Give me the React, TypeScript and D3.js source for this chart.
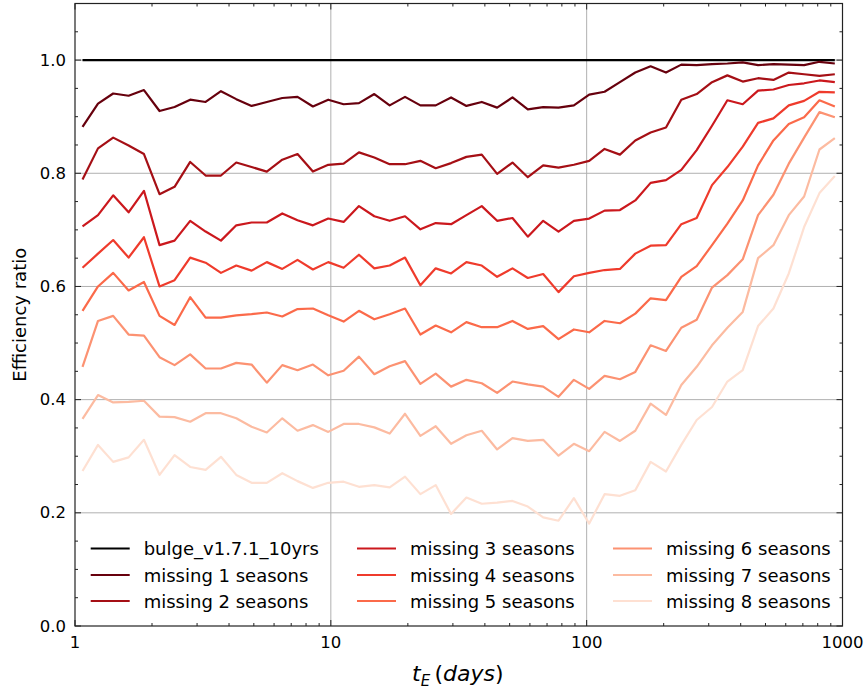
import React from 'react';
import { scaleLog, scaleLinear, line } from 'd3';

const width = 866;
const height = 689;
const margin = { top: 3.5, bottom: 63, left: 75, right: 23.5 };

// bin centres of t_E (days), log spaced
const tE = [1.07, 1.23, 1.41, 1.62, 1.86, 2.14, 2.45, 2.82, 3.24, 3.72,
  4.27, 4.9, 5.62, 6.46, 7.41, 8.51, 9.77, 11.22, 12.88, 14.79,
  16.98, 19.5, 22.39, 25.7, 29.51, 33.88, 38.9, 44.67, 51.29, 58.88,
  67.61, 77.62, 89.13, 102.3, 117.5, 134.9, 154.9, 177.8, 204.2, 234.4,
  269.2, 309, 354.8, 407.4, 467.7, 537, 616.6, 707.9, 812.8, 933.3];

const bulge = [1, 1, 1, 1, 1, 1, 1, 1, 1, 1, 1, 1, 1, 1, 1, 1, 1, 1, 1, 1, 1, 1, 1, 1, 1,
  1, 1, 1, 1, 1, 1, 1, 1, 1, 1, 1, 1, 1, 1, 1, 1, 1, 1, 1, 1, 1, 1, 1, 1, 1];

const miss1 = [0.882, 0.923, 0.941, 0.937, 0.947, 0.910, 0.917, 0.930, 0.926, 0.945,
  0.931, 0.919, 0.926, 0.933, 0.935, 0.918, 0.930, 0.922, 0.924, 0.940,
  0.920, 0.935, 0.920, 0.920, 0.934, 0.919, 0.926, 0.916, 0.934, 0.913,
  0.917, 0.916, 0.920, 0.939, 0.944, 0.961, 0.978, 0.989, 0.978, 0.992,
  0.991, 0.993, 0.994, 0.996, 0.991, 0.993, 0.992, 0.991, 0.997, 0.994];
const miss2 = [0.789, 0.844, 0.863, 0.849, 0.834, 0.763, 0.776, 0.820, 0.796, 0.796,
  0.819, 0.811, 0.803, 0.824, 0.834, 0.803, 0.815, 0.817, 0.837, 0.828,
  0.816, 0.816, 0.822, 0.809, 0.818, 0.829, 0.833, 0.799, 0.819, 0.793,
  0.814, 0.810, 0.815, 0.822, 0.843, 0.833, 0.858, 0.872, 0.881, 0.930,
  0.940, 0.961, 0.973, 0.962, 0.968, 0.965, 0.978, 0.975, 0.972, 0.975];
const miss3 = [0.706, 0.726, 0.761, 0.731, 0.769, 0.673, 0.681, 0.716, 0.697, 0.681,
  0.708, 0.713, 0.713, 0.729, 0.717, 0.708, 0.720, 0.714, 0.742, 0.724,
  0.716, 0.724, 0.701, 0.712, 0.710, 0.726, 0.742, 0.716, 0.721, 0.688,
  0.716, 0.697, 0.716, 0.720, 0.734, 0.735, 0.752, 0.783, 0.788, 0.806,
  0.841, 0.884, 0.929, 0.922, 0.946, 0.948, 0.956, 0.959, 0.964, 0.961];
const miss4 = [0.633, 0.658, 0.682, 0.651, 0.687, 0.600, 0.611, 0.651, 0.642, 0.624,
  0.637, 0.628, 0.643, 0.631, 0.647, 0.630, 0.643, 0.633, 0.656, 0.632,
  0.637, 0.651, 0.602, 0.632, 0.623, 0.643, 0.637, 0.617, 0.632, 0.615,
  0.622, 0.590, 0.618, 0.624, 0.629, 0.631, 0.658, 0.672, 0.673, 0.710,
  0.721, 0.779, 0.811, 0.847, 0.889, 0.897, 0.920, 0.928, 0.944, 0.943];
const miss5 = [0.557, 0.600, 0.624, 0.593, 0.608, 0.548, 0.532, 0.581, 0.545, 0.545,
  0.549, 0.551, 0.554, 0.547, 0.560, 0.561, 0.549, 0.538, 0.557, 0.542,
  0.551, 0.561, 0.515, 0.531, 0.519, 0.537, 0.528, 0.528, 0.539, 0.525,
  0.530, 0.507, 0.524, 0.519, 0.539, 0.535, 0.552, 0.579, 0.576, 0.617,
  0.636, 0.673, 0.711, 0.752, 0.814, 0.858, 0.887, 0.899, 0.929, 0.918];
const miss6 = [0.458, 0.539, 0.548, 0.515, 0.513, 0.475, 0.461, 0.480, 0.455, 0.455,
  0.465, 0.462, 0.430, 0.461, 0.452, 0.462, 0.443, 0.451, 0.476, 0.445,
  0.459, 0.468, 0.428, 0.446, 0.423, 0.435, 0.429, 0.412, 0.432, 0.427,
  0.423, 0.405, 0.435, 0.419, 0.442, 0.436, 0.449, 0.496, 0.486, 0.527,
  0.541, 0.598, 0.620, 0.648, 0.726, 0.762, 0.817, 0.863, 0.908, 0.899];
const miss7 = [0.366, 0.408, 0.395, 0.396, 0.398, 0.370, 0.369, 0.361, 0.376, 0.376,
  0.367, 0.352, 0.342, 0.367, 0.345, 0.355, 0.343, 0.357, 0.357, 0.351,
  0.340, 0.375, 0.336, 0.353, 0.322, 0.337, 0.345, 0.312, 0.332, 0.327,
  0.329, 0.301, 0.322, 0.309, 0.343, 0.327, 0.345, 0.393, 0.373, 0.426,
  0.458, 0.496, 0.527, 0.555, 0.650, 0.673, 0.726, 0.759, 0.842, 0.862];
const miss8 = [0.274, 0.320, 0.290, 0.298, 0.329, 0.267, 0.302, 0.281, 0.276, 0.299,
  0.267, 0.253, 0.253, 0.270, 0.256, 0.244, 0.253, 0.255, 0.246, 0.249,
  0.245, 0.264, 0.233, 0.249, 0.198, 0.227, 0.216, 0.218, 0.221, 0.211,
  0.192, 0.186, 0.226, 0.181, 0.233, 0.230, 0.240, 0.290, 0.273, 0.320,
  0.364, 0.387, 0.432, 0.452, 0.530, 0.561, 0.623, 0.705, 0.765, 0.795];

const labels = ['bulge_v1.7.1_10yrs', 'missing 1 seasons', 'missing 2 seasons', 'missing 3 seasons',
  'missing 4 seasons', 'missing 5 seasons', 'missing 6 seasons', 'missing 7 seasons', 'missing 8 seasons'];
const colors = ['#000000', '#67000d', '#a50f15', '#cb181d', '#ef3b2c', '#fb6a4a', '#fc9272', '#fcbba1', '#fee0d2'];
const series = [bulge, miss1, miss2, miss3, miss4, miss5, miss6, miss7, miss8];

const yMajor = [0, 0.2, 0.4, 0.6, 0.8, 1.0];
const xMajor = [1, 10, 100, 1000];

const font = 'DejaVu Sans, sans-serif';

export default function App() {
  const x0 = margin.left;
  const x1 = width - margin.right;
  const y0 = height - margin.bottom;
  const y1 = margin.top;

  const xScale = scaleLog().domain([1, 1000]).range([x0, x1]);
  const yScale = scaleLinear().domain([0, 1.1]).range([y0, y1]);

  const path = line<number>()
    .x((_, i) => xScale(tE[i]))
    .y((d) => yScale(d));

  const xMinor = xScale.ticks().filter((t) => !xMajor.includes(t));
  const yMinor = yScale.ticks(22).filter((t) => !yMajor.some((m) => Math.abs(m - t) < 1e-9));

  const legendCols = [90.7, 357, 613];
  const legendRows = [548.5, 575, 601];

  return (
    <svg width={width} height={height} style={{ position: 'absolute', left: 0, top: 0, background: '#fff' }}>
      {/* grid */}
      <g stroke="#b0b0b0" strokeWidth={1}>
        {yMajor.slice(1).map((t) => (
          <line key={'gy' + t} x1={x0} x2={x1} y1={yScale(t)} y2={yScale(t)} />
        ))}
        {[10, 100].map((t) => (
          <line key={'gx' + t} x1={xScale(t)} x2={xScale(t)} y1={y0} y2={y1} />
        ))}
      </g>

      {/* series in plotting order */}
      {series.map((s, i) => (
        <path key={labels[i]} d={path(s) || ''} fill="none" stroke={colors[i]}
          strokeWidth={2.2} strokeLinejoin="round" />
      ))}

      {/* frame */}
      <rect x={x0} y={y1} width={x1 - x0} height={y0 - y1} fill="none" stroke="#222" strokeWidth={1.2} />

      {/* ticks, pointing inwards on all sides */}
      <g stroke="#222" strokeWidth={1}>
        {xMajor.map((t) => (
          <g key={'xt' + t}>
            <line x1={xScale(t)} x2={xScale(t)} y1={y0} y2={y0 - 6} />
            <line x1={xScale(t)} x2={xScale(t)} y1={y1} y2={y1 + 6} />
          </g>
        ))}
        {xMinor.map((t) => (
          <g key={'xm' + t}>
            <line x1={xScale(t)} x2={xScale(t)} y1={y0} y2={y0 - 3} />
            <line x1={xScale(t)} x2={xScale(t)} y1={y1} y2={y1 + 3} />
          </g>
        ))}
        {yMajor.map((t) => (
          <g key={'yt' + t}>
            <line x1={x0} x2={x0 + 6} y1={yScale(t)} y2={yScale(t)} />
            <line x1={x1} x2={x1 - 6} y1={yScale(t)} y2={yScale(t)} />
          </g>
        ))}
        {yMinor.map((t) => (
          <g key={'ym' + t}>
            <line x1={x0} x2={x0 + 3} y1={yScale(t)} y2={yScale(t)} />
            <line x1={x1} x2={x1 - 3} y1={yScale(t)} y2={yScale(t)} />
          </g>
        ))}
      </g>

      {/* tick labels */}
      <g fontFamily={font} fontSize={16.5} fill="#000">
        {yMajor.map((t) => (
          <text key={'yl' + t} x={x0 - 9} y={yScale(t)} textAnchor="end" dominantBaseline="central">
            {t.toFixed(1)}
          </text>
        ))}
        {xMajor.map((t) => (
          <text key={'xl' + t} x={xScale(t)} y={648} textAnchor="middle">{t}</text>
        ))}
      </g>

      {/* axis titles */}
      <text x={19} y={(y0 + y1) / 2} transform={`rotate(-90, 19, ${(y0 + y1) / 2})`}
        textAnchor="middle" dominantBaseline="central" fontFamily={font} fontSize={18}>
        Efficiency ratio
      </text>
      <text x={412} y={681} fontFamily={font} fontSize={22}>
        <tspan fontStyle="italic">t</tspan>
        <tspan fontStyle="italic" fontSize={15} dy={5}>E</tspan>
        <tspan dy={-5}>{'\u2009('}</tspan>
        <tspan fontStyle="italic">days</tspan>
        <tspan>)</tspan>
      </text>

      {/* legend */}
      <g fontFamily={font} fontSize={18}>
        {labels.map((name, i) => {
          const cx = legendCols[Math.floor(i / 3)];
          const cy = legendRows[i % 3];
          return (
            <g key={'lg' + name}>
              <line x1={cx} x2={cx + 39} y1={cy} y2={cy} stroke={colors[i]} strokeWidth={2.2} />
              <text x={cx + 53} y={cy} dominantBaseline="central">{name}</text>
            </g>
          );
        })}
      </g>
    </svg>
  );
}
